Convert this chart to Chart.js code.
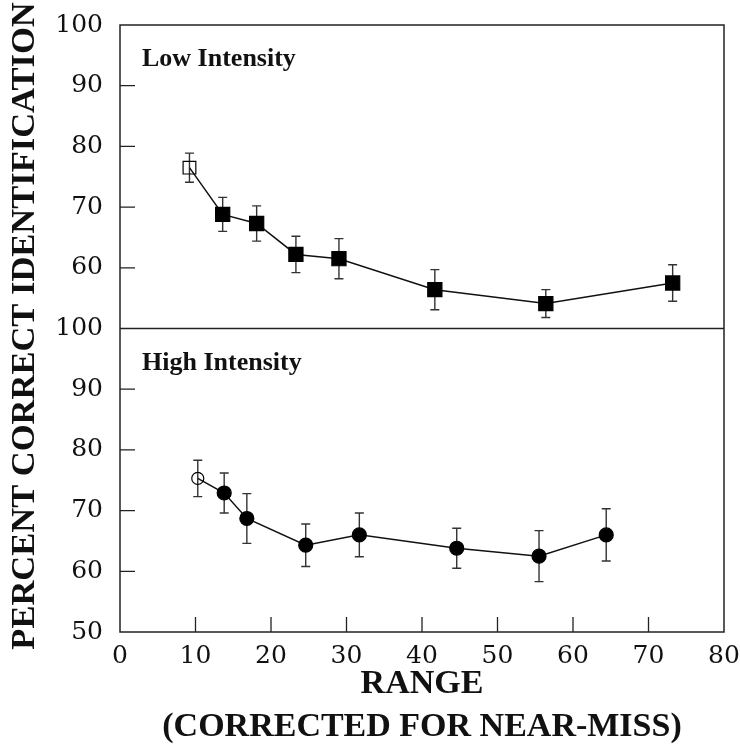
<!DOCTYPE html>
<html>
<head>
<meta charset="utf-8">
<script src="https://cdn.jsdelivr.net/npm/chart.js@4/dist/chart.umd.min.js"></script>
<style>
  html, body { margin: 0; padding: 0; background: #fff; }
</style>
</head>
<body>
<canvas id="RangeChart" width="740" height="752"></canvas>
<script>
// data

const lowRange = [9.2, 13.6, 18.1, 23.3, 29.0, 41.7, 56.4, 73.2];
const lowPercent = [76.5, 68.8, 67.3, 62.2, 61.5, 56.4, 54.1, 57.5];
const lowError = [2.4, 2.8, 2.9, 3.0, 3.3, 3.3, 2.3, 3.0];

const highRange = [10.3, 13.8, 16.8, 24.6, 31.7, 44.6, 55.5, 64.4];
const highPercent = [75.3, 72.9, 68.7, 64.3, 66.0, 63.8, 62.5, 66.0];
const highError = [3.0, 3.3, 4.1, 3.5, 3.6, 3.3, 4.2, 4.3];

const rangeTicks = [0, 10, 20, 30, 40, 50, 60, 70, 80];
const percentTicks = [50, 60, 70, 80, 90, 100];

const panelNames = ['Low Intensity', 'High Intensity'];
const yTitle = 'PERCENT CORRECT IDENTIFICATION';
const xTitle = ['RANGE', '(CORRECTED FOR NEAR-MISS)'];

const toPoints = (xs, ys) => xs.map((v, i) => ({ x: v, y: ys[i] }));

// first point of each series is drawn open
const openFirst = (n, open, filled) => Array.from({ length: n }, (_, i) => i === 0 ? open : filled);

// frame, inward ticks, error bars and texts

const panelFrame = {
    id: 'panelFrame',
    beforeDatasetsDraw(chart) {
        const { ctx, chartArea: a, scales } = chart;
        const x = scales.x, yTop = scales.yTop, yBot = scales.yBot;
        ctx.save();
        ctx.strokeStyle = '#222';
        ctx.lineWidth = 1.5;
        ctx.strokeRect(a.left, a.top, a.right - a.left, a.bottom - a.top);
        const mid = yBot.getPixelForValue(100);
        ctx.beginPath();
        ctx.moveTo(a.left, mid);
        ctx.lineTo(a.right, mid);
        ctx.stroke();

        // ticks pointing inside
        const tickLen = 15;
        ctx.lineWidth = 1.3;
        ctx.beginPath();
        [yTop, yBot].forEach(s => {
            percentTicks.slice(1, -1).forEach(v => {
                const py = s.getPixelForValue(v);
                ctx.moveTo(a.left, py);
                ctx.lineTo(a.left + tickLen, py);
            });
        });
        rangeTicks.slice(1, -1).forEach(v => {
            const px = x.getPixelForValue(v);
            ctx.moveTo(px, a.bottom);
            ctx.lineTo(px, a.bottom - tickLen);
        });
        ctx.stroke();

        // error bars
        const errs = [lowError, highError];
        ctx.strokeStyle = '#333';
        ctx.lineWidth = 1.4;
        chart.data.datasets.forEach((ds, di) => {
            const s = scales[ds.yAxisID];
            ds.data.forEach((p, i) => {
                const px = x.getPixelForValue(p.x);
                const hi = s.getPixelForValue(p.y + errs[di][i]);
                const lo = s.getPixelForValue(p.y - errs[di][i]);
                ctx.beginPath();
                ctx.moveTo(px, hi); ctx.lineTo(px, lo);
                ctx.moveTo(px - 4.5, hi); ctx.lineTo(px + 4.5, hi);
                ctx.moveTo(px - 4.5, lo); ctx.lineTo(px + 4.5, lo);
                ctx.stroke();
            });
        });
        ctx.restore();
    },
    afterDraw(chart) {
        const { ctx, chartArea: a, scales } = chart;
        ctx.save();
        ctx.fillStyle = '#111';
        ctx.font = 'bold 26px "Liberation Serif"';
        ctx.textBaseline = 'alphabetic';
        ctx.textAlign = 'left';
        ctx.fillText(panelNames[0], a.left + 22, scales.yTop.top + 41);
        ctx.fillText(panelNames[1], a.left + 22, scales.yBot.top + 41);

        ctx.translate(25.5, 326);
        ctx.rotate(-Math.PI / 2);
        ctx.font = 'bold 34.5px "Liberation Serif"';
        ctx.textAlign = 'center';
        ctx.textBaseline = 'middle';
        ctx.fillText(yTitle, 0, 0);
        ctx.restore();
    }
};

const tickFont = { family: '"DejaVu Serif"', size: 25, lineHeight: 1.0 };

const percentAxis = (hideBottom) => ({
    type: 'linear',
    position: 'left',
    stack: 'panels',
    stackWeight: 1,
    min: 50,
    max: 100,
    grid: { display: false, drawTicks: false },
    border: { display: false },
    afterFit: (scale) => {
        scale.width = 120;
        scale.paddingTop = 0;
        scale.paddingBottom = 0;
    },
    afterBuildTicks: (scale) => { scale.ticks = percentTicks.map(v => ({ value: v })); },
    ticks: {
        color: '#111',
        font: tickFont,
        padding: 17,
        autoSkip: false,
        callback: (value) => (hideBottom && value === 50) ? '' : value
    }
});

const RangeChart = new Chart(document.getElementById('RangeChart'), {
    type: 'line',
    data: {
        datasets: [{
            label: panelNames[0],
            data: toPoints(lowRange, lowPercent),
            yAxisID: 'yTop',
            borderColor: '#111',
            borderWidth: 1.5,
            pointStyle: 'rect',
            pointRadius: openFirst(lowRange.length, 9, 10),
            pointBackgroundColor: openFirst(lowRange.length, 'rgba(0,0,0,0)', '#000'),
            pointBorderColor: '#000',
            pointBorderWidth: 1.2,
            tension: 0
        },
        {
            label: panelNames[1],
            data: toPoints(highRange, highPercent),
            yAxisID: 'yBot',
            borderColor: '#111',
            borderWidth: 1.5,
            pointStyle: 'circle',
            pointRadius: openFirst(highRange.length, 6, 7),
            pointBackgroundColor: openFirst(highRange.length, 'rgba(0,0,0,0)', '#000'),
            pointBorderColor: '#000',
            pointBorderWidth: 1.2,
            tension: 0
        }]
    },
    options: {
        responsive: false,
        animation: false,
        layout: { padding: { top: 25, right: 0, bottom: 0, left: 0 } },
        plugins: {
            legend: { display: false },
            tooltip: { enabled: false }
        },
        scales: {
            x: {
                type: 'linear',
                position: 'bottom',
                min: 0,
                max: 80,
                grid: { display: false, drawTicks: false },
                border: { display: false },
                afterFit: (scale) => {
                    scale.height = 120;
                    scale.paddingLeft = 0;
                    scale.paddingRight = 16;
                },
                afterBuildTicks: (scale) => { scale.ticks = rangeTicks.map(v => ({ value: v })); },
                ticks: {
                    color: '#111',
                    font: tickFont,
                    padding: 12,
                    autoSkip: false,
                    maxRotation: 0
                },
                title: {
                    display: true,
                    text: xTitle,
                    color: '#111',
                    font: { family: '"Liberation Serif"', size: 34, weight: 'bold', lineHeight: 1.265 },
                    padding: { top: 0, bottom: 3.5 }
                }
            },
            yBot: percentAxis(false),
            yTop: percentAxis(true)
        }
    },
    plugins: [panelFrame]
});
</script>
</body>
</html>
